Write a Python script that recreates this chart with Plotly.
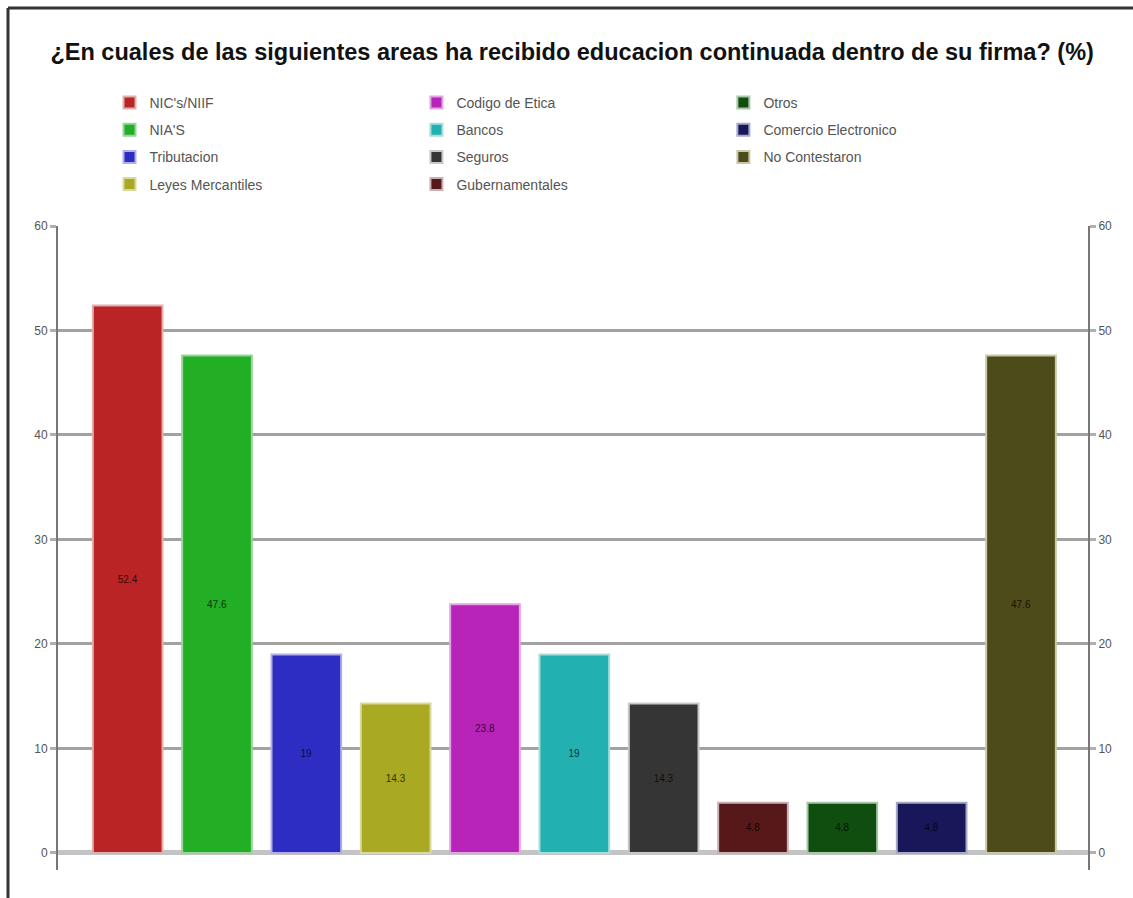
import plotly.graph_objects as go

categories = ["NIC's/NIIF", "NIA'S", "Tributacion", "Leyes Mercantiles",
              "Codigo de Etica", "Bancos", "Seguros", "Gubernamentales",
              "Otros", "Comercio Electronico", "No Contestaron"]
values = [52.4, 47.6, 19, 14.3, 23.8, 19, 14.3, 4.8, 4.8, 4.8, 47.6]
labels = ["52.4", "47.6", "19", "14.3", "23.8", "19", "14.3", "4.8", "4.8", "4.8", "47.6"]
colors = ["#BA2424", "#23AF25", "#2D2DC3", "#AAAA22", "#B823B8", "#23B0B0",
          "#353535", "#561818", "#104E10", "#17175A", "#4E4B1A"]
edge_colors = ["#E0B0B0", "#9AD49A", "#B0B0E6", "#D8D8A0", "#E0A6E0", "#A6DEDE",
               "#C8C8C8", "#C8B0B0", "#A8C8A8", "#A8A8C8", "#C8C8A8"]
legend_of = ["legend"] * 4 + ["legend2"] * 4 + ["legend3"] * 3
y_ticks = [0, 10, 20, 30, 40, 50, 60]

fig = go.Figure()
for i, cat in enumerate(categories):
    fig.add_trace(go.Bar(
        x=[i], y=[values[i]], name=cat, text=[labels[i]],
        textposition="inside", insidetextanchor="middle",
        textfont=dict(size=10, color="rgba(0,0,0,0.75)", family="Liberation Sans"),
        marker=dict(color=colors[i], line=dict(color=edge_colors[i], width=2)),
        width=0.78, legend=legend_of[i], legendgroup=cat, showlegend=True,
        hoverinfo="skip",
    ))

# invisible trace on second y axis to show right tick labels
fig.add_trace(go.Scatter(x=[0], y=[0], yaxis="y2", mode="markers",
                         marker=dict(opacity=0), showlegend=False, hoverinfo="skip"))

axis_font = dict(size=12, color="#555555", family="Liberation Sans")
legend_common = dict(
    orientation="v", font=dict(size=14, color="#555555", family="Liberation Sans"),
    bgcolor="rgba(0,0,0,0)", tracegroupgap=6, xanchor="left", yanchor="top",
    itemsizing="constant",
)

fig.update_layout(
    width=1133, height=898,
    paper_bgcolor="white", plot_bgcolor="white",
    margin=dict(l=58, r=45, t=226, b=28),
    title=dict(text="<b>¿En cuales de las siguientes areas ha recibido educacion continuada dentro de su firma? (%)</b>",
               x=0.505, xref="container", xanchor="center",
               y=1 - 52 / 898, yref="container", yanchor="middle",
               font=dict(size=23.5, color="#111111", family="Liberation Sans")),
    xaxis=dict(range=[-0.78, 10.75], showticklabels=False, showgrid=False,
               zeroline=False, showline=False, ticks=""),
    yaxis=dict(range=[-1.63, 60], tickvals=y_ticks, showgrid=True,
               gridcolor="#a2a2a2", gridwidth=3, zeroline=True,
               zerolinecolor="#c4c4c4", zerolinewidth=5,
               showline=True, linecolor="#777777", linewidth=2,
               ticks="outside", ticklen=6, tickcolor="#b0b0b0", tickwidth=3,
               tickfont=axis_font),
    yaxis2=dict(range=[-1.63, 60], tickvals=y_ticks, overlaying="y", side="right",
                showgrid=False, zeroline=False,
                showline=True, linecolor="#777777", linewidth=2,
                ticks="outside", ticklen=6, tickcolor="#b0b0b0", tickwidth=3,
                tickfont=axis_font),
    legend=dict(x=0.050, y=1.216, **legend_common),
    legend2=dict(x=0.348, y=1.216, **legend_common),
    legend3=dict(x=0.646, y=1.216, **legend_common),
    barmode="overlay",
    shapes=[
        dict(type="line", xref="paper", yref="paper",
             x0=-50 / 1030, x1=1.1, y0=(870 - 8) / 644, y1=(870 - 8) / 644,
             line=dict(color="#333333", width=3)),
        dict(type="line", xref="paper", yref="paper",
             x0=-50 / 1030, x1=-50 / 1030, y0=(870 - 8) / 644, y1=-0.1,
             line=dict(color="#333333", width=3)),
    ],
)

fig.write_html("out.html")
